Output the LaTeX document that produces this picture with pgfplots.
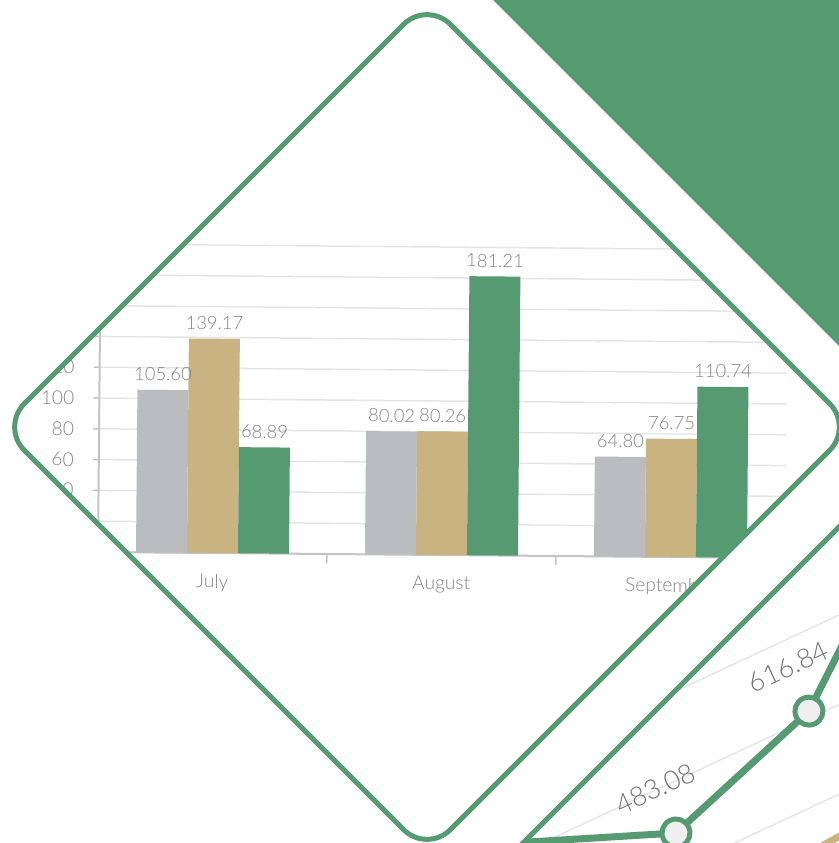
\documentclass[border=0pt]{standalone}
\usepackage{pgfplots}
\pgfplotsset{compat=1.18}
\usepackage{fontspec}
\setmainfont{Lato}[UprightFont={* Light}]
\definecolor{mygreen}{RGB}{86,154,114}
\definecolor{mytan}{RGB}{201,179,129}
\definecolor{mygray}{RGB}{187,188,192}
\definecolor{txtgray}{RGB}{132,132,132}
\definecolor{gridgray}{RGB}{229,229,229}
\definecolor{axisgray}{RGB}{196,196,196}
\definecolor{markfill}{RGB}{239,239,239}

\begin{document}
\begin{tikzpicture}
\useasboundingbox (0,0) rectangle (419.5pt,421.5pt);
\clip (0,0) rectangle (419.5pt,421.5pt);
% green corner triangle
\fill[mygreen] (246.5pt,421.5pt) -- (419.5pt,421.5pt) -- (419.5pt,248.5pt) -- cycle;
% ---------------- main bar chart clipped by diamond
\begin{scope}
\clip[rounded corners=16.5pt] (213.5pt,421pt) -- (426.5pt,208pt) -- (213.5pt,-5pt) -- (0.5pt,208pt) -- cycle;
\begin{scope}[rotate around={-0.5:(106pt,145pt)}, transform shape]
\begin{axis}[
  at={(49pt,145pt)}, anchor=south west,
  scale only axis, width=343.5pt, height=154pt,
  xmin=-0.5, xmax=2.5, ymin=0, ymax=200,
  ybar=0pt, bar width=25.5pt,
  xtick={0,1,2}, xticklabels={July,August,September},
  minor xtick={0.5,1.5},
  ytick={0,20,...,200},
  ymajorgrids, grid style={gridgray, line width=0.75pt},
  axis x line*=bottom, axis y line*=left,
  axis line style={axisgray, line width=1pt},
  tick align=outside,
  major x tick style={draw=none},
  minor x tick style={axisgray, line width=0.75pt},
  minor tick length=4.5pt,
  major tick length=3pt,
  ytick style={axisgray, line width=0.75pt},
  tick label style={font=\fontsize{9.6}{11}\selectfont, text=txtgray},
  /pgf/number format/assume math mode=true,
  xticklabel style={yshift=-4pt},
  yticklabel style={xshift=-6pt},
  nodes near coords, point meta=explicit symbolic,
  every node near coord/.append style={font=\fontsize{9.2}{11}\selectfont, text=txtgray, yshift=1pt},
]
\addplot[fill=mygray, draw=none] coordinates {(0,105.60)[105.60] (1,80.02)[80.02] (2,64.80)[64.80]};
\addplot[fill=mytan, draw=none] coordinates {(0,139.17)[139.17] (1,80.26)[80.26] (2,76.75)[76.75]};
\addplot[fill=mygreen, draw=none] coordinates {(0,68.89)[68.89] (1,181.21)[181.21] (2,110.74)[110.74]};
\end{axis}
\end{scope}
\end{scope}
\draw[mygreen, line width=2.5pt, rounded corners=16.5pt] (213.5pt,421pt) -- (426.5pt,208pt) -- (213.5pt,-5pt) -- (0.5pt,208pt) -- cycle;
% ---------------- second (line) chart, rotated, clipped
\begin{scope}
\clip (261.5pt,0pt) -- (419.5pt,158pt) -- (419.5pt,0pt) -- cycle;
\begin{scope}[rotate around={25:(338pt,5pt)}, transform shape]
\begin{axis}[
  at={(252pt,-93.07pt)}, anchor=south west,
  scale only axis, width=258pt, height=243.6pt,
  xmin=0, xmax=3, ymin=0, ymax=1200,
  xtick=\empty, ytick={0,200,...,1200}, yticklabels={},
  ymajorgrids, grid style={gridgray, line width=0.75pt},
  major tick length=0pt, axis line style={draw=none},
  clip=false,
]
\addplot[mytan, line width=3.5pt] coordinates {(0,250) (1,280) (2,310) (3,350)};
\addplot[mygreen, line width=3.5pt, mark=*, mark size=7pt,
  mark options={fill=markfill, draw=mygreen, line width=2.5pt},
  nodes near coords, point meta=explicit symbolic,
  every node near coord/.append style={font=\fontsize{13.5}{15}\selectfont, text=txtgray!85!black, yshift=15pt}]
  coordinates {(0,650)[] (1,483.08)[483.08] (2,616.84)[616.84] (3,950)[]};
\end{axis}
\end{scope}
\end{scope}
\draw[mygreen, line width=2.5pt] (251.5pt,-10pt) -- (429.5pt,168pt);
\end{tikzpicture}
\end{document}
